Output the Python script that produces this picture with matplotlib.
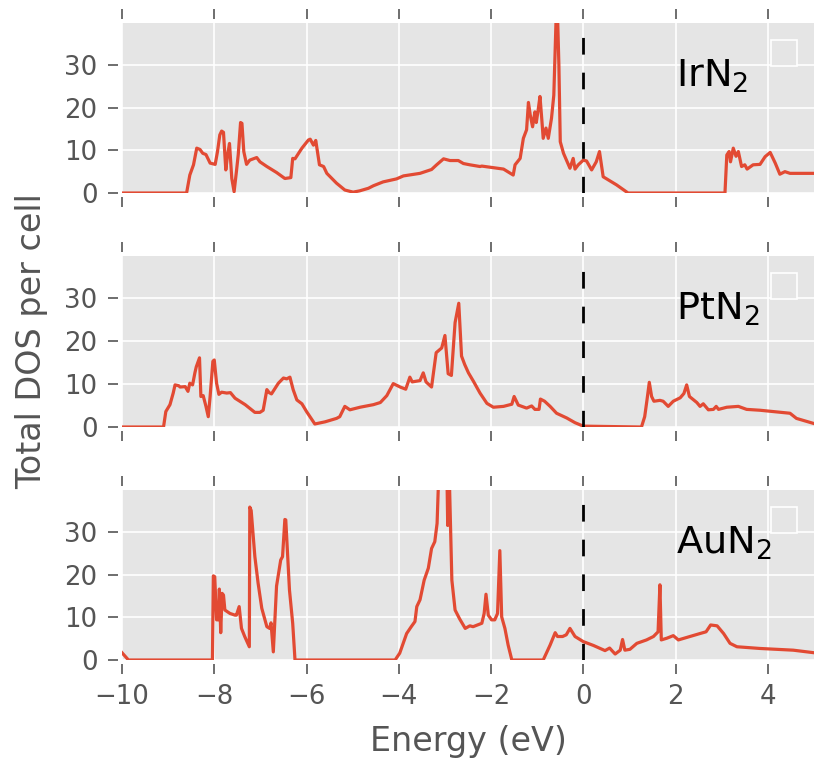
import matplotlib
matplotlib.use("Agg")
import matplotlib.pyplot as plt
import numpy as np

# ---------------- data ----------------
ir_energy = [
    -10.0, -8.60, -8.53, -8.45, -8.38, -8.31, -8.25, -8.18, -8.09, -7.98,
    -7.93, -7.88, -7.84, -7.80, -7.75, -7.71, -7.67, -7.62, -7.57, -7.52,
    -7.48, -7.43, -7.40, -7.36, -7.30, -7.23, -7.08, -7.01, -6.86, -6.65,
    -6.47, -6.34, -6.30, -6.25, -6.10, -5.96, -5.92, -5.85, -5.80, -5.72,
    -5.63, -5.56, -5.35, -5.17, -4.99, -4.85, -4.66, -4.55, -4.34, -4.05,
    -3.90, -3.54, -3.29, -3.18, -3.03, -2.89, -2.71, -2.60, -2.46, -2.24,
    -2.20, -1.73, -1.52, -1.48, -1.37, -1.30, -1.23, -1.19, -1.15, -1.10,
    -1.05, -1.02, -0.98, -0.94, -0.90, -0.87, -0.81, -0.76, -0.69, -0.64,
    -0.59, -0.56, -0.53, -0.50, -0.43, -0.29, -0.22, -0.18, -0.11, 0.00,
    0.07, 0.18, 0.28, 0.35, 0.43, 0.72, 0.97, 3.07, 3.11, 3.16,
    3.19, 3.25, 3.31, 3.36, 3.43, 3.50, 3.55, 3.68, 3.83, 3.94,
    4.05, 4.16, 4.26, 4.37, 4.48, 5.00]
ir_dos = [
    0, 0, 4.2, 6.6, 10.5, 10.2, 9.3, 9.0, 7.0, 6.7,
    9.7, 13.6, 14.5, 14.2, 5.4, 9.0, 11.6, 3.4, 0.3, 5.0,
    9.0, 16.5, 16.3, 9.7, 6.7, 7.7, 8.3, 7.3, 6.2, 4.8,
    3.4, 3.6, 8.1, 8.0, 10.5, 12.4, 12.6, 11.2, 12.3, 6.6,
    6.2, 4.6, 2.3, 0.7, 0.2, 0.5, 1.1, 1.7, 2.6, 3.3,
    4.0, 4.6, 5.5, 6.6, 8.0, 7.6, 7.6, 6.9, 6.6, 6.2,
    6.3, 5.6, 4.2, 6.6, 8.1, 12.8, 14.8, 21.2, 18.2, 15.5,
    19.0, 16.5, 19.4, 22.6, 17.2, 12.8, 15.2, 12.8, 17.5, 22.9,
    41, 42, 30, 12, 9.3, 5.8, 8.1, 5.6, 6.6, 7.7,
    7.5, 5.4, 7.3, 9.7, 3.8, 1.9, 0, 0, 8.9, 9.7,
    7.3, 10.5, 8.6, 9.7, 6.2, 6.6, 5.6, 6.6, 6.7, 8.5,
    9.5, 7.0, 4.4, 5.0, 4.6, 4.6]

pt_energy = [
    -10.0, -9.10, -9.05, -8.96, -8.89, -8.85, -8.77, -8.74, -8.63, -8.57,
    -8.53, -8.47, -8.42, -8.39, -8.32, -8.29, -8.24, -8.18, -8.13, -8.09,
    -8.03, -8.00, -7.95, -7.90, -7.84, -7.73, -7.65, -7.55, -7.33, -7.12,
    -7.01, -6.94, -6.86, -6.81, -6.76, -6.61, -6.50, -6.43, -6.36, -6.29,
    -6.21, -6.10, -6.00, -5.82, -5.60, -5.35, -5.28, -5.17, -5.06, -4.84,
    -4.55, -4.40, -4.26, -4.12, -3.97, -3.85, -3.76, -3.71, -3.54, -3.47,
    -3.41, -3.29, -3.19, -3.07, -3.00, -2.93, -2.86, -2.78, -2.70, -2.64,
    -2.57, -2.49, -2.38, -2.24, -2.09, -1.95, -1.73, -1.55, -1.50, -1.41,
    -1.23, -1.12, -1.05, -0.96, -0.93, -0.84, -0.72, -0.58, -0.36, -0.18,
    0.00, 1.26, 1.33, 1.38, 1.43, 1.48, 1.53, 1.66, 1.73, 1.84,
    1.95, 2.10, 2.18, 2.24, 2.30, 2.46, 2.53, 2.60, 2.71, 2.82,
    2.88, 2.93, 3.11, 3.36, 3.54, 3.83, 4.48, 4.62, 5.00]
pt_dos = [
    0, 0, 3.6, 5.2, 7.9, 9.8, 9.6, 9.3, 9.4, 8.3,
    10.2, 9.8, 12.6, 14.0, 16.1, 7.1, 7.3, 4.8, 2.4, 7.1,
    15.3, 15.6, 10.2, 7.6, 8.1, 7.9, 8.0, 6.7, 5.2, 3.4,
    3.4, 3.9, 8.7, 8.0, 7.7, 10.2, 11.4, 11.2, 11.6, 8.7,
    6.3, 5.4, 3.6, 0.7, 1.2, 2.0, 2.4, 4.8, 4.0, 4.6,
    5.2, 5.7, 7.3, 10.1, 9.3, 8.8, 11.6, 10.5, 10.8, 12.6,
    10.5, 9.3, 17.3, 18.4, 21.3, 12.4, 12.0, 24.3, 28.8, 16.5,
    14.5, 12.6, 10.6, 7.9, 5.5, 4.6, 4.8, 5.3, 7.1, 5.1,
    4.4, 4.9, 4.1, 4.1, 6.5, 6.0, 4.8, 3.2, 2.1, 1.0,
    0.2, 0, 2.4, 6.3, 10.4, 7.1, 6.0, 6.2, 6.0, 4.8,
    6.0, 6.8, 7.8, 9.8, 7.1, 5.7, 4.8, 5.4, 4.0, 4.1,
    4.8, 4.1, 4.6, 4.8, 4.1, 3.9, 3.2, 2.0, 0.8]

au_energy = [
    -10.0, -9.86, -8.04, -8.02, -7.99, -7.95, -7.91, -7.89, -7.86, -7.83,
    -7.80, -7.77, -7.66, -7.55, -7.52, -7.46, -7.41, -7.34, -7.24, -7.23,
    -7.20, -7.12, -7.05, -6.97, -6.86, -6.80, -6.77, -6.72, -6.65, -6.56,
    -6.52, -6.47, -6.45, -6.37, -6.30, -6.25, -4.08, -3.98, -3.83, -3.73,
    -3.65, -3.61, -3.54, -3.45, -3.36, -3.29, -3.22, -3.17, -3.12, -2.96,
    -2.94, -2.91, -2.85, -2.78, -2.68, -2.56, -2.46, -2.39, -2.20, -2.15,
    -2.11, -2.06, -1.99, -1.92, -1.86, -1.81, -1.77, -1.70, -1.63, -1.55,
    -0.87, -0.72, -0.61, -0.56, -0.45, -0.37, -0.29, -0.18, 0.00, 0.22,
    0.47, 0.57, 0.62, 0.69, 0.80, 0.85, 0.90, 1.01, 1.16, 1.37,
    1.52, 1.62, 1.66, 1.69, 1.81, 1.95, 2.06, 2.31, 2.53, 2.66,
    2.76, 2.90, 3.04, 3.18, 3.33, 3.83, 4.55, 5.00]
au_dos = [
    1.7, 0.0, 0, 19.7, 19.5, 9.4, 9.4, 16.6, 6.4, 15.6,
    15.2, 11.7, 10.9, 10.5, 10.5, 12.5, 7.4, 5.5, 3.1, 35.8,
    35.0, 24.2, 18.0, 12.1, 7.8, 7.4, 8.7, 1.9, 17.3, 23.4,
    24.2, 32.9, 32.8, 16.4, 8.6, 0, 0, 1.6, 6.2, 7.8,
    9.0, 12.5, 14.1, 18.7, 21.5, 26.1, 27.7, 32.0, 48, 46,
    31.5, 45, 18.7, 11.7, 9.6, 7.4, 8.0, 7.8, 8.6, 10.9,
    15.4, 10.5, 9.4, 9.4, 10.9, 25.6, 10.1, 7.4, 3.5, 0,
    0, 3.5, 6.4, 5.5, 5.5, 5.9, 7.4, 5.5, 4.3, 3.4,
    2.2, 2.8, 2.2, 1.4, 2.3, 4.8, 2.3, 2.5, 3.9, 4.7,
    5.5, 6.6, 17.6, 4.7, 5.1, 5.7, 4.7, 5.5, 6.2, 6.6,
    8.2, 8.0, 6.2, 3.9, 3.1, 2.7, 2.3, 1.7]

materials = [r"IrN$_2$", r"PtN$_2$", r"AuN$_2$"]
energies = [ir_energy, pt_energy, au_energy]
dos_values = [ir_dos, pt_dos, au_dos]
x_ticks = [-10, -8, -6, -4, -2, 0, 2, 4]
y_ticks = [0, 10, 20, 30]

# ---------------- style ----------------
plt.rcParams["font.family"] = ["DejaVu Sans"]
plt.rcParams["mathtext.fontset"] = "cm"
plt.rcParams["mathtext.default"] = "regular"
GRAY = "#555555"
RED = "#E24A33"
BG = "#E5E5E5"

fig = plt.figure(figsize=(8.17, 7.61), dpi=100)
W, H = 817.0, 761.0
left = 122 / W
width = (814 - 122) / W
panels = [(23, 193), (256, 427), (490, 660)]

axes = []
for i, (top, bot) in enumerate(panels):
    ax = fig.add_axes([left, 1 - bot / H, width, (bot - top) / H])
    axes.append(ax)
    ax.set_facecolor(BG)
    for s in ax.spines.values():
        s.set_visible(False)
        s.set_position(("outward", 3))
    ax.grid(True, color="white", linewidth=1.2)
    ax.set_axisbelow(True)
    ax.plot(energies[i], dos_values[i], color=RED, linewidth=2.3, zorder=3)
    ax.axvline(0, color="black", linewidth=2, linestyle=(0, (6, 6.5)), zorder=4)
    ax.set_xlim(-10, 5)
    ax.set_ylim(0, 39.8)
    ax.set_xticks(x_ticks)
    ax.set_yticks(y_ticks)
    ax.tick_params(axis="both", which="major", direction="out", length=7.5,
                   width=1.2, color=GRAY, labelcolor=GRAY, labelsize=18.7,
                   top=True, right=True, pad=7)
    if i < 2:
        ax.tick_params(axis="x", labelbottom=False)
    ax.text(2.0, 25, materials[i], fontsize=27.5, color="black", zorder=5)
    leg = ax.legend(handles=[], loc="upper right", fontsize=24,
                    fancybox=False, facecolor=BG, edgecolor="white",
                    framealpha=1.0)
    leg.get_frame().set_linewidth(1.2)

fig.text(468 / W, 1 - 742 / H, "Energy (eV)", fontsize=24, color=GRAY,
         ha="center", va="center")
fig.text(31.5 / W, 1 - 341.5 / H, "Total DOS per cell", fontsize=24,
         color=GRAY, rotation=90, ha="center", va="center")

fig.savefig("out.png", dpi=100)
